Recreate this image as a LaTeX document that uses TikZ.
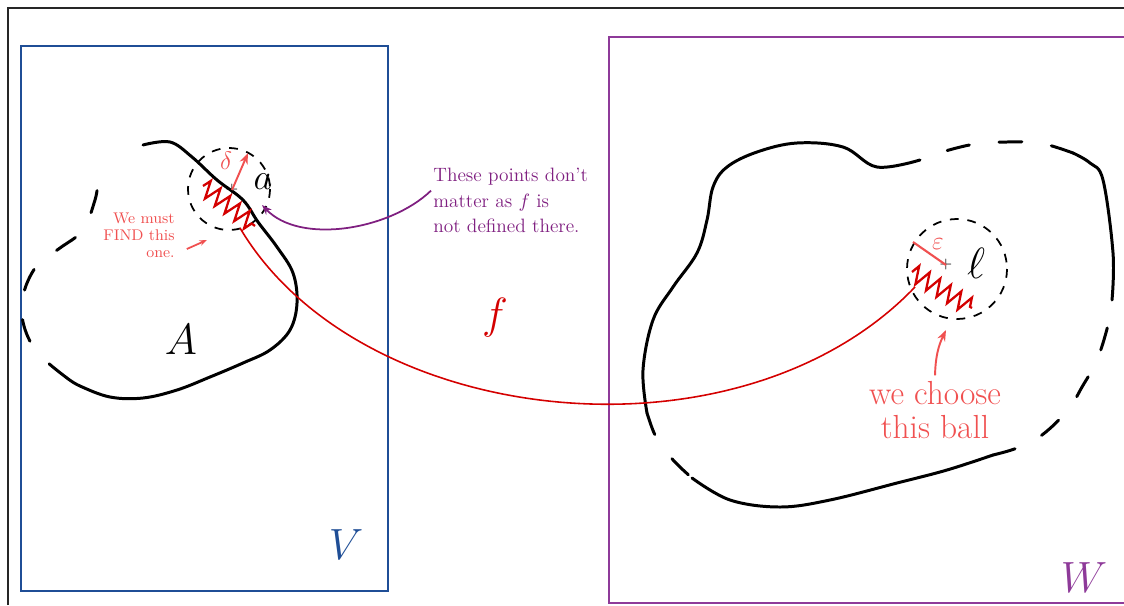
\documentclass[tikz,border=0pt]{standalone}
\usetikzlibrary{arrows.meta,decorations.pathmorphing}
\definecolor{vblue}{HTML}{1F4E96}
\definecolor{wpurple}{HTML}{8E3A99}
\definecolor{notepurple}{HTML}{7F1F80}
\definecolor{salmon}{HTML}{F05050}
\definecolor{fred}{HTML}{D40000}
\tikzset{frame/.style={draw=black!85,line width=0.8pt},setbox/.style={line width=1.1pt},
blob/.style={line width=1.7pt,line cap=round},blobdash/.style={blob,dash pattern=on 13pt off 17pt},
ball/.style={line width=1pt,dash pattern=on 5pt off 5pt},
spring/.style={fred,line width=1.3pt,decorate,decoration={zigzag,segment length=7pt,amplitude=5pt}},
pointer/.style={-{Stealth[length=2.2mm]},line width=1.1pt},
big/.style={font=\fontsize{26}{30}\selectfont,inner sep=0pt}}
\begin{document}
\begin{tikzpicture}[x=0.02cm,y=-0.02cm]
\useasboundingbox (0,0) rectangle (1124,605);
\draw[frame] (8,605)--(8,8)--(1124,8);
% the two spaces
\draw[setbox,vblue] (21,46) rectangle (388,591);
\draw[setbox,wpurple] (1124,37)--(609,37)--(609,603)--(1124,603);
\node[big,vblue,font=\fontsize{34}{38}\selectfont] (V) at (346,545) {$V$};
\node[big,wpurple] (W) at (1084,578) {$W$};
% set A
\draw[blob] plot[smooth,tension=0.6] coordinates {(143,145)(170,142)(192,157)(217,180)(243,200)(258,222)(277,247)(293,273)(297,303)(290,330)(270,350)(243,363)(210,377)(177,390)(143,398)(110,397)(80,386)(67,378)};
\draw[blobdash] plot[smooth,tension=0.6] coordinates {(67,378)(37,352)(23,322)(24,292)(38,264)(60,248)(83,230)(95,200)(100,176)(110,170)};
\node[big] (A) at (181,340) {$A$};
% ball round a
\coordinate (a) at (232,190);
\draw[ball] (229,189) circle (41);
\node[font=\small] (amark) at (a) {$+$};
\node[big,font=\fontsize{22}{26}\selectfont] (alab) at (263,182) {$a$};
\coordinate (dtip) at (248,153);
\draw[pointer,salmon] (a)--(dtip);
\node[salmon,font=\Large] (delta) at (226,161) {$\delta$};
\coordinate (zl1) at (203,186);\coordinate (zl2) at (255,226);
\draw[spring] (zl1)--(zl2);
\node[salmon,font=\fontsize{8.8}{9.6}\selectfont,align=right] (must) at (139,235) {We must\\FIND this\\one.};
\coordinate (mtip) at (207,240);
\draw[salmon,-{Stealth[length=1.5mm]},line width=1pt] (must.east)+(6,14)--(mtip);
% set W side
\draw[blob] plot[smooth,tension=0.6] coordinates {(920,160)(877,167)(843,147)(797,143)(757,152)(727,167)(713,187)(707,220)(697,253)(673,287)(653,320)(643,370)(647,413)};
\draw[blobdash] plot[smooth,tension=0.6] coordinates {(647,413)(655,435)(667,453)(680,467)(692,478)};
\draw[blob] plot[smooth,tension=0.6] coordinates {(692,478)(730,500)(780,507)(830,500)(897,483)(947,470)(993,455)};
\draw[blobdash] plot[smooth,tension=0.6] coordinates {(993,455)(1017,448)(1042,435)(1068,410)(1082,387)(1097,360)(1108,325)(1112,300)};
\draw[blob] plot[smooth,tension=0.6] coordinates {(1112,300)(1113,253)(1103,180)(1090,163)(1073,153)};
\draw[blobdash] plot[smooth,tension=0.6] coordinates {(1073,153)(1040,143)(1007,142)(975,144)(942,152)(920,160)};
% ball round l
\coordinate (l) at (946,265);
\draw[ball] (957,269) circle (50);
\node[font=\small] (lmark) at (l) {$+$};
\node[big,font=\fontsize{24}{28}\selectfont] (llab) at (976,263) {$\ell$};
\coordinate (erim) at (913,242);
\draw[salmon,line width=1.2pt] (erim)--(l);
\node[salmon,font=\Large] (eps) at (938,244) {$\varepsilon$};
\coordinate (zr1) at (912,272);\coordinate (zr2) at (972,308);
\draw[spring] (zr1)--(zr2);
\node[salmon,font=\fontsize{19}{19}\selectfont,align=center] (choose) at (935,410) {we choose\\this ball};
\coordinate (ctip) at (946,330);
\draw[pointer,salmon] (choose.north) to[bend left=12] (ctip);
% the map f
\coordinate (fstart) at (240,228);\coordinate (fend) at (915,287);
\draw[fred,line width=0.9pt] (fstart) .. controls (360,430) and (740,470) .. (fend);
\node[big,fred] (f) at (495,318) {$f$};
% undefined points
\node[notepurple,font=\fontsize{11}{14.5}\selectfont,align=left,anchor=north west,inner sep=0pt] (undef) at (433,168) {These points don't\\matter as $f$ is\\not defined there.};
\coordinate (utip) at (262,205);
\draw[notepurple,-{Stealth[length=2mm]},line width=1pt] (undef.west)+(-2,-10) .. controls (390,230) and (300,245) .. (utip);
\end{tikzpicture}
\end{document}
